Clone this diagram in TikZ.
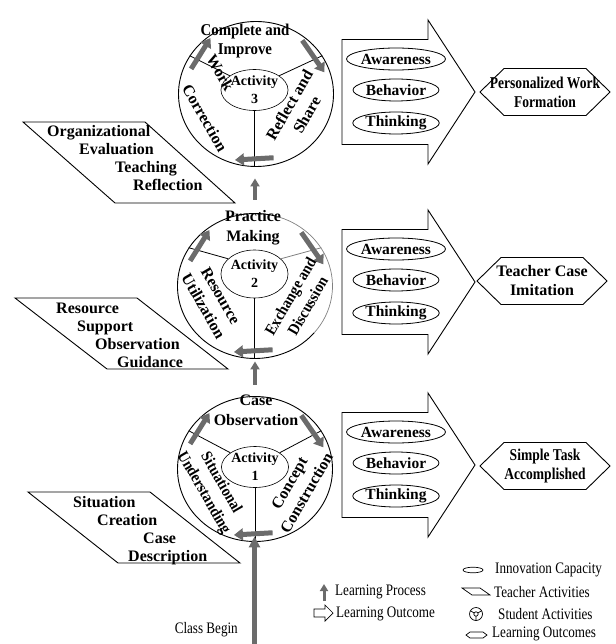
\documentclass[tikz,border=0pt]{standalone}
\usepackage{fontspec}
\setmainfont{Liberation Serif}
\newfontfamily\narrowfont[FakeStretch=0.82]{Liberation Serif}
\newfontfamily\semifont[FakeStretch=0.9]{Liberation Serif}
\usetikzlibrary{arrows.meta, positioning, shapes.geometric, calc}
\definecolor{cflow}{HTML}{6B6B6B}
\definecolor{cring}{HTML}{808080}

\begin{document}
\begin{tikzpicture}[
  x=1pt, y=-1pt,
  font=\bfseries\fontsize{16}{20}\selectfont,
  ring/.style={draw, ellipse, line width=0.9pt, minimum width=155pt, minimum height=145pt, inner sep=0pt},
  hub/.style={draw, ellipse, line width=0.6pt, minimum width=49pt, minimum height=41pt, inner sep=0pt,
              align=center, font=\bfseries\fontsize{14}{18}\selectfont},
  spoke/.style={line width=0.8pt},
  sect/.style={align=center, inner sep=0pt},
  cycleflow/.style={-{Triangle[length=9pt,width=12pt]}, draw=cflow, line width=5pt},
  uparrow/.style={-{Triangle[length=8pt,width=9pt]}, draw=cflow, line width=3.5pt},
  trait/.style={draw, ellipse, line width=0.8pt, minimum width=86pt, minimum height=22pt, inner sep=0pt,
                font=\bfseries\fontsize{15.5}{18}\selectfont},
  goal/.style={inner sep=0pt, align=center, font=\bfseries\fontsize{16}{19}\selectfont},
  outcome/.style={line width=0.9pt},
  tchr/.style={align=left, inner sep=0pt, anchor=north west, font=\bfseries\fontsize{16}{18}\selectfont},
  keytext/.style={anchor=west, inner sep=0pt, font=\narrowfont\mdseries\fontsize{16}{18}\selectfont}
]
\useasboundingbox (0,0) rectangle (615,644);

% activity rings
\node[ring] (c3) at (256,94) {};
\node[ring, draw=none] (c2) at (255,286) {};
\node[ring] (c1) at (255,469) {};
\draw[line width=0.9pt] ($(c2)+(75:77.5pt and 72.5pt)$) arc[start angle=75, end angle=320, x radius=77.5pt, y radius=72.5pt];
\draw[line width=0.7pt, cring] ($(c2)+(-40:77.5pt and 72.5pt)$) arc[start angle=-40, end angle=75, x radius=77.5pt, y radius=72.5pt];
\node[hub] (a3) at (254.5,90) {Activity\\3};
\node[hub, minimum height=48pt] (a2) at (254.5,274) {Activity\\2};
\node[hub] (a1) at (255,467) {Activity\\1};
\foreach \n/\col in {1/black,2/cring,3/black} {
  \draw[spoke] (a\n.south) -- (a\n.south |- c\n.south);
  \draw[spoke] (a\n.150) -- (c\n.150);
  \draw[spoke, \col] (a\n.30) -- (c\n.30);
  \draw[cycleflow] ($(c\n)+(158:70pt and 67pt)$) -- ($(c\n)+(128:74pt and 71pt)$);
  \draw[cycleflow] ($(c\n)+(50:72pt and 70pt)$) -- ($(c\n)+(18:72pt and 70pt)$);
  \draw[cycleflow] ($(c\n)+(-75:68pt and 66pt)$) -- ($(c\n)+(-107:72pt and 69pt)$);
}

% sector texts
\node[sect, font=\semifont\bfseries\fontsize{16.5}{19}\selectfont] (s3t) at (245,41) {Complete and\\Improve};
\node[sect, align=left, rotate=-60] (s3l) at (217,103) {Work\\[16pt]\hspace*{14pt}Correction};
\node[sect, rotate=60] (s3r) at (298,110) {Reflect and\\Share};
\node[sect] (s2t) at (253,228) {Practice\\Making};
\node[sect, rotate=-60] (s2l) at (212,301) {Resource\\Utilization};
\node[sect, rotate=60, font=\semifont\bfseries\fontsize{16}{20}\selectfont] (s2r) at (299,301) {Exchange and\\Discussion};
\node[sect] (s1t) at (256,410) {Case\\Observation};
\node[sect, rotate=-60, font=\semifont\bfseries\fontsize{16}{20}\selectfont] (s1l) at (212,488) {Situational\\Understanding};
\node[sect, rotate=60] (s1r) at (298,488) {Concept\\Construction};

% learning process
\draw[uparrow, shorten <=13.5pt, shorten >=11.5pt] (c2.north) -- (c2.north |- c3.south);
\draw[uparrow, shorten <=11.5pt, shorten >=2.5pt] (c1.north) -- (c1.north |- c2.south);
\coordinate (start) at (254.5,644);
\draw[uparrow, line width=4.5pt, -{Triangle[length=11pt,width=11pt]}, shorten >=-5.5pt] (start) -- (start |- c1.south);
\node[keytext, anchor=east] (begin) at (238,630) {Class Begin};

% learning outcomes
\foreach \y in {92,282,465}
  \draw[outcome] (342,\y-52.5) -- (428,\y-52.5) -- (428,\y-72) -- (475,\y) -- (428,\y+72)
                 -- (428,\y+52.5) -- (342,\y+52.5) -- cycle;
\foreach \n/\y in {3/92,2/282,1/465} {
  \node[trait] (aw\n) at (396,\y-33) {Awareness};
  \node[trait] (be\n) at (396,\y-2)  {Behavior};
  \node[trait] (th\n) at (396,\y+31) {Thinking};
}
\node[goal, font=\narrowfont\bfseries\fontsize{16.5}{19}\selectfont] (g3) at (545,92)  {Personalized Work\\Formation};
\node[goal] (g2) at (542,281) {Teacher Case\\Imitation};
\node[goal, font=\narrowfont\bfseries\fontsize{16.5}{19}\selectfont] (g1) at (545,466) {Simple Task\\Accomplished};
\foreach \g in {g1,g2,g3}
  \draw[outcome] ([shift={(-65,0)}]\g.center) -- ([shift={(-41,-23.5)}]\g.center)
                 -- ([shift={(41,-23.5)}]\g.center) -- ([shift={(65,0)}]\g.center)
                 -- ([shift={(41,23.5)}]\g.center) -- ([shift={(-41,23.5)}]\g.center) -- cycle;

% teacher activities
\draw[outcome] (23,122) -- (145,122) -- (235,203) -- (115,203) -- cycle;
\draw[outcome] (15,298) -- (137,298) -- (228,369) -- (107,369) -- cycle;
\draw[outcome] (28,492) -- (150,492) -- (240,563) -- (118,563) -- cycle;
\node[tchr] (t3) at (47,125) {Organizational\\\hspace*{32pt}Evaluation\\\hspace*{68pt}Teaching\\\hspace*{86pt}Reflection};
\node[tchr] (t2) at (56,303) {Resource\\\hspace*{21pt}Support\\\hspace*{39pt}Observation\\\hspace*{61pt}Guidance};
\node[tchr] (t1) at (73,496) {Situation\\\hspace*{24pt}Creation\\\hspace*{70pt}Case\\\hspace*{55pt}Description};

% legend
\draw[uparrow, line width=3pt, -{Triangle[length=7pt,width=8pt]}] (324,601) -- (324,584);
\node[keytext] (kproc) at (335,592) {Learning Process};
\draw[line width=0.7pt] (314,609) -- (325,609) -- (325,605) -- (333,613) -- (325,621) -- (325,617) -- (314,617) -- cycle;
\node[keytext] (kout) at (336,614) {Learning Outcome};
\draw[line width=0.7pt] (473,570) ellipse [x radius=10pt, y radius=2.8pt];
\node[keytext] (kcap) at (495,570) {Innovation Capacity};
\draw[line width=0.7pt] (462,588) -- (480,588) -- (490,595) -- (472,595) -- cycle;
\node[keytext] (ktch) at (494,592) {Teacher Activities};
\draw[line width=0.7pt] (476,614) circle[radius=6.5pt] (476,614) circle[radius=2.2pt];
\draw[line width=0.7pt] (476,616.2) -- (476,620.5) (474.1,612.9) -- (470.4,610.8) (477.9,612.9) -- (481.6,610.8);
\node[keytext] (kstu) at (498,614) {Student Activities};
\draw[line width=0.7pt] (466,635) -- (470,632) -- (483,632) -- (487,635) -- (483,638) -- (470,638) -- cycle;
\node[keytext] (kres) at (492,634) {Learning Outcomes};
\end{tikzpicture}
\end{document}
